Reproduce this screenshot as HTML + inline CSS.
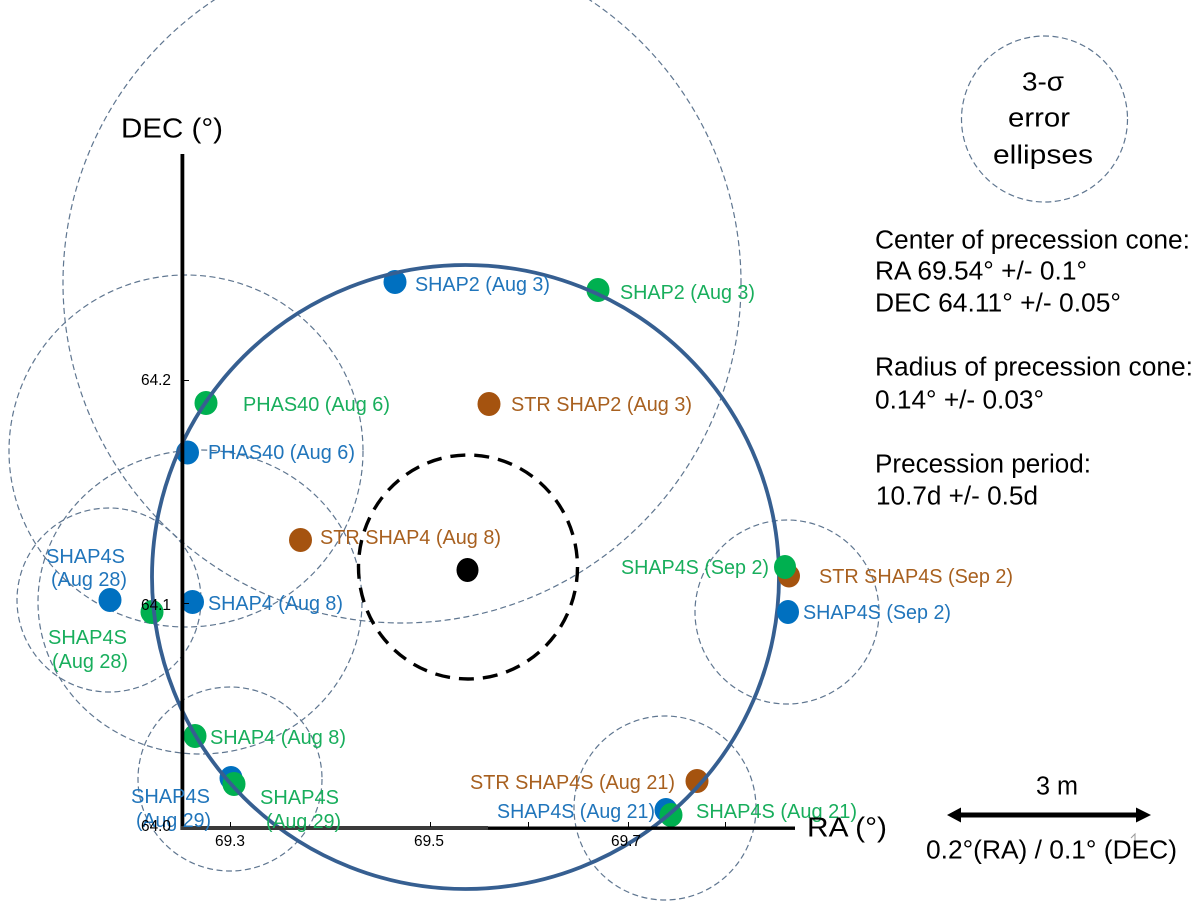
<!DOCTYPE html>
<html><head><meta charset="utf-8"><title>Precession cone</title>
<style>
html,body{margin:0;padding:0;background:#fff}
svg{display:block;filter:blur(0.35px)}
text{font-family:"Liberation Sans",Arial,sans-serif;white-space:pre}
.l text{font-size:20px}
.b{fill:#0070c0}.g{fill:#00b050}.r{fill:#a5530f}
.bl text{fill:#2075bb}.gl text{fill:#18ae5c}.rl text{fill:#a8601f}
.k text{fill:#000;font-size:25.5px}
.t text{fill:#000;font-size:16px}
</style></head><body>
<svg width="1200" height="902" viewBox="0 0 1200 902" xmlns="http://www.w3.org/2000/svg">
<rect width="1200" height="902" fill="#fff"/>
<g fill="none" stroke="#5f7690" stroke-width="1.2" stroke-dasharray="6 3.5">
<ellipse cx="402" cy="283" rx="339" ry="340"/>
<ellipse cx="186" cy="451" rx="177" ry="176"/>
<ellipse cx="200" cy="602" rx="162" ry="152"/>
<ellipse cx="109" cy="600" rx="92" ry="92"/>
<ellipse cx="230" cy="779" rx="92" ry="92"/>
<ellipse cx="665" cy="808" rx="91" ry="92"/>
<ellipse cx="787" cy="612" rx="92" ry="92"/>
<ellipse cx="1044.5" cy="119" rx="83" ry="83"/>
</g>
<g class="b">
<ellipse cx="395" cy="282" rx="11.5" ry="12"/>
<ellipse cx="187.5" cy="452.5" rx="11.5" ry="12"/>
<ellipse cx="110" cy="600" rx="11.5" ry="12"/>
<ellipse cx="192.5" cy="602" rx="11.5" ry="12"/>
<ellipse cx="231" cy="778" rx="11.5" ry="12"/>
<ellipse cx="666" cy="810" rx="11.5" ry="12"/>
</g>
<g class="g">
<ellipse cx="598" cy="290" rx="11.5" ry="12"/>
<ellipse cx="206" cy="403" rx="11.5" ry="12"/>
<ellipse cx="152" cy="612" rx="11.5" ry="12"/>
<ellipse cx="195" cy="736" rx="11.5" ry="12"/>
<ellipse cx="234" cy="784" rx="11.5" ry="12"/>
<ellipse cx="671" cy="815" rx="11.5" ry="12"/>
</g>
<g class="r">
<ellipse cx="489" cy="404" rx="11.5" ry="12"/>
<ellipse cx="300.5" cy="540" rx="11.5" ry="12"/>
<ellipse cx="697" cy="781" rx="11.5" ry="12"/>
</g>
<ellipse cx="465.5" cy="577" rx="313.5" ry="312" fill="none" stroke="#365f91" stroke-width="3.8"/>
<ellipse class="r" cx="789" cy="576" rx="11" ry="11.5"/>
<ellipse class="g" cx="785" cy="567" rx="11" ry="12"/>
<ellipse class="b" cx="788" cy="612" rx="11" ry="12"/>
<ellipse cx="468" cy="567" rx="109.5" ry="112" fill="none" stroke="#000" stroke-width="3.4" stroke-dasharray="15 9"/>
<ellipse cx="467.5" cy="570" rx="11" ry="12" fill="#000"/>
<rect x="180.5" y="154" width="3.8" height="676" fill="#000"/>
<rect x="181" y="826" width="307" height="4" fill="#3a3a3a"/>
<rect x="488" y="826.5" width="307" height="3.4" fill="#000"/>
<g stroke="#000" stroke-width="1" fill="none">
<path d="M184 380.5h5M184 603.5h5M230.5 822v5M430.5 822v5M528.5 822v5M628.5 822v5M725.5 822v5"/>
</g>
<path d="M947 815L961 807.5V812.5H1136V807.5L1151 815L1136 822.5V817.5H961V822.5Z" fill="#000"/>
<path d="M1131 838l4-4v9" stroke="#999" stroke-width="1" fill="none"/>
<g class="l bl" transform="translate(0 1)">
<text x="415" y="290" textLength="135" lengthAdjust="spacingAndGlyphs">SHAP2 (Aug 3)</text>
<text x="208" y="458" textLength="147" lengthAdjust="spacingAndGlyphs">PHAS40 (Aug 6)</text>
<text x="46" y="562" textLength="79" lengthAdjust="spacingAndGlyphs">SHAP4S</text>
<text x="51" y="585" textLength="76" lengthAdjust="spacingAndGlyphs">(Aug 28)</text>
<text x="208" y="609" textLength="135" lengthAdjust="spacingAndGlyphs">SHAP4 (Aug 8)</text>
<text x="131" y="802" textLength="79" lengthAdjust="spacingAndGlyphs">SHAP4S</text>
<text x="136" y="826" textLength="75" lengthAdjust="spacingAndGlyphs">(Aug 29)</text>
<text x="497" y="817" textLength="158" lengthAdjust="spacingAndGlyphs">SHAP4S (Aug 21)</text>
<text x="803" y="618" textLength="148" lengthAdjust="spacingAndGlyphs">SHAP4S (Sep 2)</text>
</g>
<g class="l gl" transform="translate(0 1)">
<text x="620" y="298" textLength="135" lengthAdjust="spacingAndGlyphs">SHAP2 (Aug 3)</text>
<text x="243" y="410" textLength="147" lengthAdjust="spacingAndGlyphs">PHAS40 (Aug 6)</text>
<text x="48" y="643" textLength="79" lengthAdjust="spacingAndGlyphs">SHAP4S</text>
<text x="52" y="667" textLength="76" lengthAdjust="spacingAndGlyphs">(Aug 28)</text>
<text x="210" y="743" textLength="136" lengthAdjust="spacingAndGlyphs">SHAP4 (Aug 8)</text>
<text x="260" y="803" textLength="79" lengthAdjust="spacingAndGlyphs">SHAP4S</text>
<text x="266" y="827" textLength="75" lengthAdjust="spacingAndGlyphs">(Aug 29)</text>
<text x="696" y="817" textLength="161" lengthAdjust="spacingAndGlyphs">SHAP4S (Aug 21)</text>
<text x="621" y="573" textLength="148" lengthAdjust="spacingAndGlyphs">SHAP4S (Sep 2)</text>
</g>
<g class="l rl" transform="translate(0 1)">
<text x="511" y="410" textLength="181" lengthAdjust="spacingAndGlyphs">STR SHAP2 (Aug 3)</text>
<text x="320" y="543" textLength="181" lengthAdjust="spacingAndGlyphs">STR SHAP4 (Aug 8)</text>
<text x="470" y="788" textLength="205" lengthAdjust="spacingAndGlyphs">STR SHAP4S (Aug 21)</text>
<text x="819" y="582" textLength="194" lengthAdjust="spacingAndGlyphs">STR SHAP4S (Sep 2)</text>
</g>
<g class="t">
<text x="141" y="385" textLength="30" lengthAdjust="spacingAndGlyphs">64.2</text>
<text x="141" y="610" textLength="30" lengthAdjust="spacingAndGlyphs">64.1</text>
<text x="141" y="831" textLength="30" lengthAdjust="spacingAndGlyphs">64.0</text>
<text x="215" y="846" textLength="30" lengthAdjust="spacingAndGlyphs">69.3</text>
<text x="414" y="846" textLength="30" lengthAdjust="spacingAndGlyphs">69.5</text>
<text x="611" y="846" textLength="30" lengthAdjust="spacingAndGlyphs">69.7</text>
</g>
<g class="k" transform="translate(0 1.5)">
<text x="121" y="136" textLength="102" lengthAdjust="spacingAndGlyphs" style="font-size:28px">DEC (°)</text>
<text x="807" y="835" textLength="80" lengthAdjust="spacingAndGlyphs" style="font-size:28px">RA (°)</text>
<text x="1022" y="89" textLength="42" lengthAdjust="spacingAndGlyphs">3-σ</text>
<text x="1008" y="125" textLength="62" lengthAdjust="spacingAndGlyphs">error</text>
<text x="993" y="162" textLength="100" lengthAdjust="spacingAndGlyphs">ellipses</text>
<text x="875" y="247" textLength="315" lengthAdjust="spacingAndGlyphs">Center of precession cone:</text>
<text x="875" y="278" textLength="212" lengthAdjust="spacingAndGlyphs">RA 69.54° +/- 0.1°</text>
<text x="875" y="310" textLength="246" lengthAdjust="spacingAndGlyphs">DEC 64.11° +/- 0.05°</text>
<text x="875" y="374" textLength="318" lengthAdjust="spacingAndGlyphs">Radius of precession cone:</text>
<text x="875" y="407" textLength="169" lengthAdjust="spacingAndGlyphs">0.14° +/- 0.03°</text>
<text x="875" y="471" textLength="216" lengthAdjust="spacingAndGlyphs">Precession period:</text>
<text x="876" y="503" textLength="162" lengthAdjust="spacingAndGlyphs">10.7d +/- 0.5d</text>
<text x="1036" y="793" textLength="42" lengthAdjust="spacingAndGlyphs">3 m</text>
<text x="926" y="857" textLength="251" lengthAdjust="spacingAndGlyphs">0.2°(RA) / 0.1° (DEC)</text>
</g>
</svg>
</body></html>
